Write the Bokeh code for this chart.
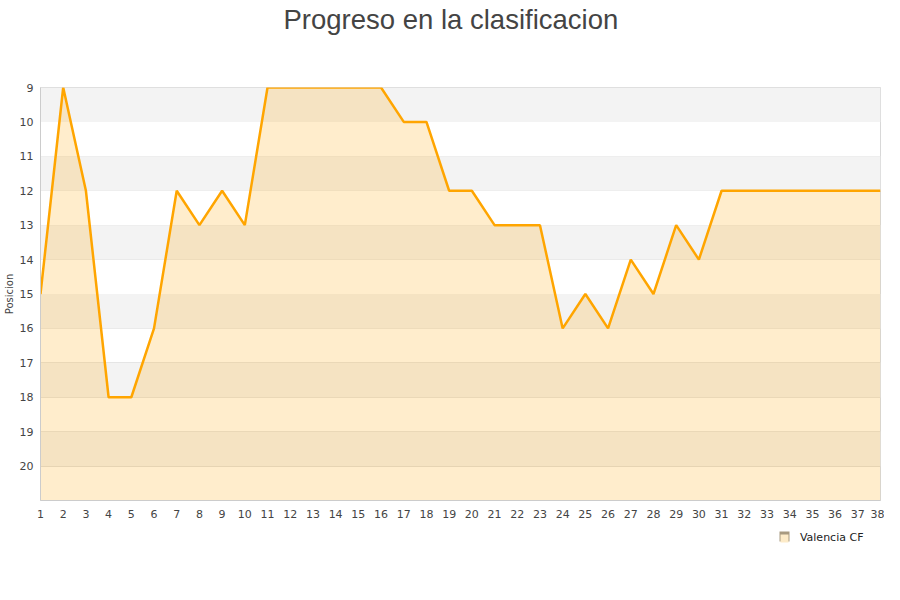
from bokeh.plotting import figure
from bokeh.models import Range1d, FixedTicker, Title, LinearAxis
from bokeh.embed import file_html
from bokeh.resources import INLINE

jornadas = list(range(1, 39))
posicion = [15, 9, 12, 18, 18, 16, 12, 13, 12, 13,
            9, 9, 9, 9, 9, 9, 10, 10, 12, 12,
            13, 13, 13, 16, 15, 16, 14, 15, 13, 14,
            12, 12, 12, 12, 12, 12, 12, 12]
y_ticks = list(range(9, 21))
band_bottoms = [10, 12, 14, 16, 18, 20]
band_tops = [9, 11, 13, 15, 17, 19]
team = "Valencia CF"
title_text = "Progreso en la clasificacion"

# legend placement (x positions on the jornada scale, below the chart)
legend_key_x = 33.75
legend_label_x = 35.85

p = figure(width=884, height=584, output_backend="svg", toolbar_location=None,
           x_range=Range1d(1, 38), y_range=Range1d(21, 9),
           min_border_left=40, min_border_right=4, min_border_top=87, min_border_bottom=84)
p.title = None
spacer = Title(text=" ", text_font_size="1px", standoff=50)
p.add_layout(spacer, "above")
t = Title(text=title_text, align="left", text_font="Liberation Sans", text_font_size="27.5px",
          text_color="#444444", text_font_style="normal", standoff=0, offset=243)
p.add_layout(t, "above")

p.background_fill_color = "white"
p.border_fill_color = "white"
p.outline_line_color = "#d8d8d8"

# alternating bands
p.quad(left=1, right=38, bottom=band_bottoms, top=band_tops,
       fill_color="#f3f3f3", line_color=None)

p.xgrid.visible = False
p.ygrid.ticker = FixedTicker(ticks=y_ticks)
p.ygrid.grid_line_color = "#e0e0e0"
p.ygrid.level = "underlay"

area = p.varea(x=jornadas, y1=posicion, y2=21, fill_color="#ffa500", fill_alpha=0.2)
p.line(x=jornadas, y=posicion, line_color="#ffa500", line_width=2.5)

for ax in (p.xaxis[0], p.yaxis[0]):
    ax.major_tick_line_color = None
    ax.minor_tick_line_color = None
    ax.major_tick_out = 0
    ax.major_tick_in = 0
    ax.minor_tick_out = 0
    ax.minor_tick_in = 0
    ax.axis_line_color = "#cccccc"
    ax.major_label_text_font = "DejaVu Sans"
    ax.major_label_text_font_size = "11px"
    ax.major_label_text_color = "#444444"

p.xaxis.ticker = FixedTicker(ticks=jornadas)
p.yaxis.ticker = FixedTicker(ticks=y_ticks)
p.xaxis.major_label_standoff = 9
p.yaxis.major_label_standoff = 7
p.yaxis.axis_label = "Posicion"
p.yaxis.axis_label_text_font = "DejaVu Sans"
p.yaxis.axis_label_text_font_size = "10px"
p.yaxis.axis_label_text_font_style = "normal"
p.yaxis.axis_label_text_color = "#444444"
p.yaxis.axis_label_standoff = 2

# legend row: label text plus the key square (outline)
leg_axis = LinearAxis(ticker=FixedTicker(ticks=[legend_label_x], minor_ticks=[legend_key_x]),
                      major_label_overrides={legend_label_x: team},
                      axis_line_color=None, major_tick_line_color=None,
                      major_tick_in=0, major_tick_out=0,
                      minor_tick_line_color="#a89a80", minor_tick_line_width=10,
                      minor_tick_in=-11, minor_tick_out=21,
                      major_label_standoff=-11, major_label_text_font="DejaVu Sans",
                      major_label_text_font_size="11px", major_label_text_color="#222222")
p.add_layout(leg_axis, "below")
# key square fill
leg_fill = LinearAxis(ticker=FixedTicker(ticks=[], minor_ticks=[legend_key_x]),
                      axis_line_color=None, major_tick_line_color=None,
                      major_tick_in=0, major_tick_out=0, major_label_text_font_size="0px",
                      minor_tick_line_color="#fdebc8", minor_tick_line_width=8,
                      minor_tick_in=12, minor_tick_out=-4)
p.add_layout(leg_fill, "below")

open("out.html", "w").write(file_html(p, INLINE))
